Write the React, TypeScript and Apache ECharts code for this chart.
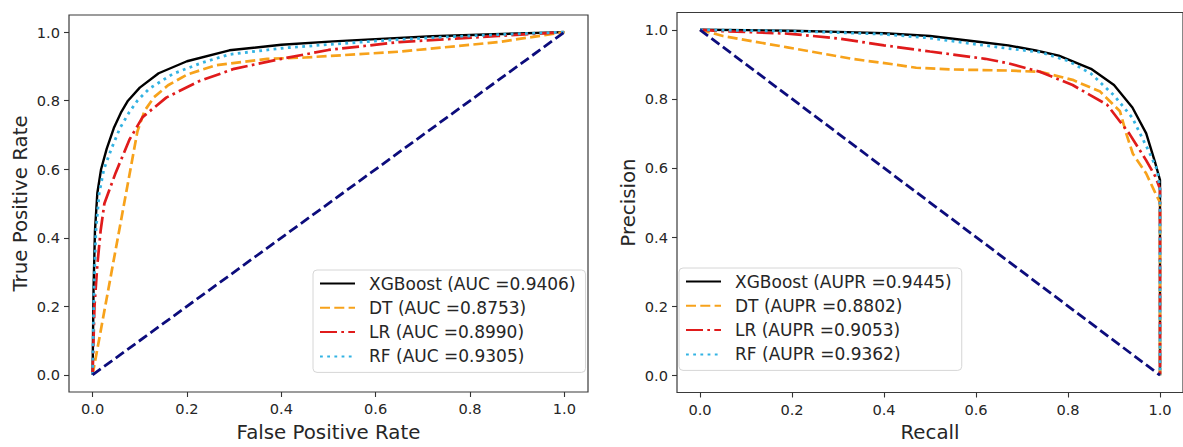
import React, { useEffect, useRef } from "react";
import * as echarts from "echarts";

// ---------- data ----------
const tickValues = [0, 0.2, 0.4, 0.6, 0.8, 1.0];

const rocNames = [
  "XGBoost (AUC =0.9406)",
  "DT (AUC =0.8753)",
  "LR (AUC =0.8990)",
  "RF (AUC =0.9305)",
];
const prNames = [
  "XGBoost (AUPR =0.9445)",
  "DT (AUPR =0.8802)",
  "LR (AUPR =0.9053)",
  "RF (AUPR =0.9362)",
];

// ROC curves: [FPR, TPR]
const xgbRoc = [
  [0, 0], [0.002, 0.25], [0.005, 0.42], [0.01, 0.53], [0.018, 0.6], [0.03, 0.66],
  [0.045, 0.72], [0.06, 0.765], [0.075, 0.8], [0.1, 0.838], [0.14, 0.88], [0.2, 0.915],
  [0.29, 0.947], [0.4, 0.963], [0.51, 0.973], [0.62, 0.981], [0.72, 0.988], [0.85, 0.994], [1, 1],
];
const dtRoc = [
  [0, 0], [0.095, 0.71], [0.11, 0.77], [0.13, 0.81], [0.16, 0.845], [0.2, 0.876],
  [0.26, 0.903], [0.37, 0.922], [0.45, 0.926], [0.65, 0.943], [0.86, 0.971], [1, 1],
];
const lrRoc = [
  [0, 0], [0.004, 0.2], [0.01, 0.32], [0.017, 0.42], [0.025, 0.5], [0.049, 0.59],
  [0.078, 0.686], [0.106, 0.752], [0.156, 0.809], [0.226, 0.857], [0.3, 0.893],
  [0.4, 0.922], [0.5, 0.948], [0.65, 0.971], [0.86, 0.989], [1, 1],
];
const rfRoc = [
  [0, 0], [0.003, 0.25], [0.007, 0.42], [0.014, 0.53], [0.024, 0.6], [0.04, 0.66],
  [0.058, 0.72], [0.078, 0.767], [0.095, 0.8], [0.12, 0.835], [0.17, 0.878], [0.23, 0.91],
  [0.29, 0.935], [0.4, 0.953], [0.5, 0.964], [0.62, 0.976], [0.75, 0.986], [0.88, 0.994], [1, 1],
];
const rocChance = [[0, 0], [1, 1]];

// PR curves: [Recall, Precision]
const xgbPr = [
  [0, 1], [0.1, 0.999], [0.2, 0.997], [0.3, 0.994], [0.4, 0.99], [0.5, 0.982], [0.6, 0.966],
  [0.67, 0.955], [0.73, 0.94], [0.78, 0.925], [0.85, 0.887], [0.9, 0.84], [0.94, 0.775],
  [0.97, 0.7], [0.99, 0.613], [1, 0.565], [1, 0],
];
const dtPr = [
  [0, 1], [0.05, 0.982], [0.19, 0.949], [0.33, 0.916], [0.42, 0.9], [0.47, 0.89], [0.55, 0.885],
  [0.67, 0.882], [0.74, 0.878], [0.81, 0.855], [0.87, 0.821], [0.913, 0.764], [0.927, 0.698],
  [0.941, 0.641], [0.97, 0.584], [0.99, 0.527], [1, 0.5], [1, 0],
];
const lrPr = [
  [0, 1], [0.05, 0.996], [0.19, 0.989], [0.3, 0.975], [0.4, 0.955], [0.5, 0.937], [0.62, 0.916],
  [0.67, 0.903], [0.74, 0.878], [0.81, 0.84], [0.885, 0.783], [0.934, 0.698], [0.97, 0.622],
  [0.99, 0.575], [1, 0.54], [1, 0],
];
const rfPr = [
  [0, 1], [0.1, 0.998], [0.2, 0.996], [0.3, 0.992], [0.4, 0.987], [0.5, 0.976], [0.6, 0.958],
  [0.67, 0.946], [0.74, 0.935], [0.8, 0.91], [0.85, 0.873], [0.9, 0.81], [0.94, 0.745],
  [0.975, 0.65], [0.994, 0.594], [1, 0.537], [1, 0],
];
const prChance = [[0, 1], [1, 0]];

// ---------- styles ----------
const FONT = "DejaVu Sans";
const TEXT = "#262626";
const modelColors = ["#000000", "#f7a21b", "#e01b1b", "#33b3e3"];
const modelWidths = [2.4, 2.7, 2.7, 2.8];
const modelDash: any[] = ["solid", [10, 4.3], [17, 4.3, 2.7, 4.3], [2.8, 4.4]];
const chanceColor = "#0c0c7c";

const makeAxis = (gridIndex: number, name: string, nameGap: number) => ({
  type: "value",
  gridIndex,
  min: -0.05,
  max: 1.05,
  name,
  nameLocation: "middle",
  nameGap,
  nameTextStyle: { fontSize: 19.8, color: TEXT, fontFamily: FONT },
  axisLine: { show: false, onZero: false },
  axisTick: {
    show: true,
    inside: false,
    length: 5,
    customValues: tickValues,
    lineStyle: { color: "#333333", width: 1.1 },
  },
  axisLabel: {
    show: true,
    margin: 9,
    fontSize: 14.6,
    color: TEXT,
    fontFamily: FONT,
    customValues: tickValues,
    formatter: (v: number) => v.toFixed(1),
  },
  splitLine: { show: false },
});

const modelSeries = (names: string[], datasets: number[][][], idx: number) =>
  names.map((name, i) => ({
    type: "line",
    name,
    xAxisIndex: idx,
    yAxisIndex: idx,
    data: datasets[i],
    symbol: "none",
    showSymbol: false,
    smooth: false,
    clip: true,
    lineStyle: { color: modelColors[i], width: modelWidths[i], type: modelDash[i] },
    itemStyle: { color: modelColors[i] },
    emphasis: { disabled: true },
    z: 2,
  }));

const chanceSeries = (data: number[][], idx: number) => ({
  type: "line",
  name: "chance" + idx,
  xAxisIndex: idx,
  yAxisIndex: idx,
  data,
  symbol: "none",
  showSymbol: false,
  lineStyle: { color: chanceColor, width: 2.8, type: [10, 4.3] },
  emphasis: { disabled: true },
  z: 2,
});

const makeLegend = (names: string[], left: number, top: number) => ({
  data: names,
  left,
  top,
  orient: "vertical",
  itemWidth: 35,
  itemHeight: 14,
  itemGap: 4.3,
  padding: [3.5, 10, 6, 6],
  backgroundColor: "rgba(255,255,255,0.85)",
  borderColor: "#d6d6d6",
  borderWidth: 1,
  borderRadius: 4,
  selectedMode: false,
  itemStyle: { opacity: 0 },
  textStyle: { fontSize: 17, color: TEXT, fontFamily: FONT, lineHeight: 20, padding: [0, 0, 0, 9] },
});

export default function App() {
  const ref = useRef<HTMLDivElement>(null);

  useEffect(() => {
    if (!ref.current) return;
    const chart = echarts.init(ref.current, undefined, { renderer: "svg" });
    chart.setOption({
      animation: false,
      backgroundColor: "#ffffff",
      textStyle: { fontFamily: FONT },
      grid: [
        { left: 69, top: 15, width: 519, height: 388, show: true, borderColor: "#3a3a3a", borderWidth: 1.2, containLabel: false },
        { left: 677, top: 12.5, width: 518, height: 387.5, show: true, borderColor: "#3a3a3a", borderWidth: 1.2, containLabel: false },
      ],
      xAxis: [makeAxis(0, "False Positive Rate", 30), makeAxis(1, "Recall", 29.5)],
      yAxis: [makeAxis(0, "True Positive Rate", 39), makeAxis(1, "Precision", 39)],
      legend: [makeLegend(rocNames, 313, 270), makeLegend(prNames, 679, 268)],
      series: [
        ...modelSeries(rocNames, [xgbRoc, dtRoc, lrRoc, rfRoc], 0),
        chanceSeries(rocChance, 0),
        ...modelSeries(prNames, [xgbPr, dtPr, lrPr, rfPr], 1),
        chanceSeries(prChance, 1),
      ],
    });
    return () => chart.dispose();
  }, []);

  return (
    <div
      ref={ref}
      style={{ position: "absolute", left: 0, top: 0, width: 1183, height: 447, overflow: "hidden", background: "#fff" }}
    />
  );
}
